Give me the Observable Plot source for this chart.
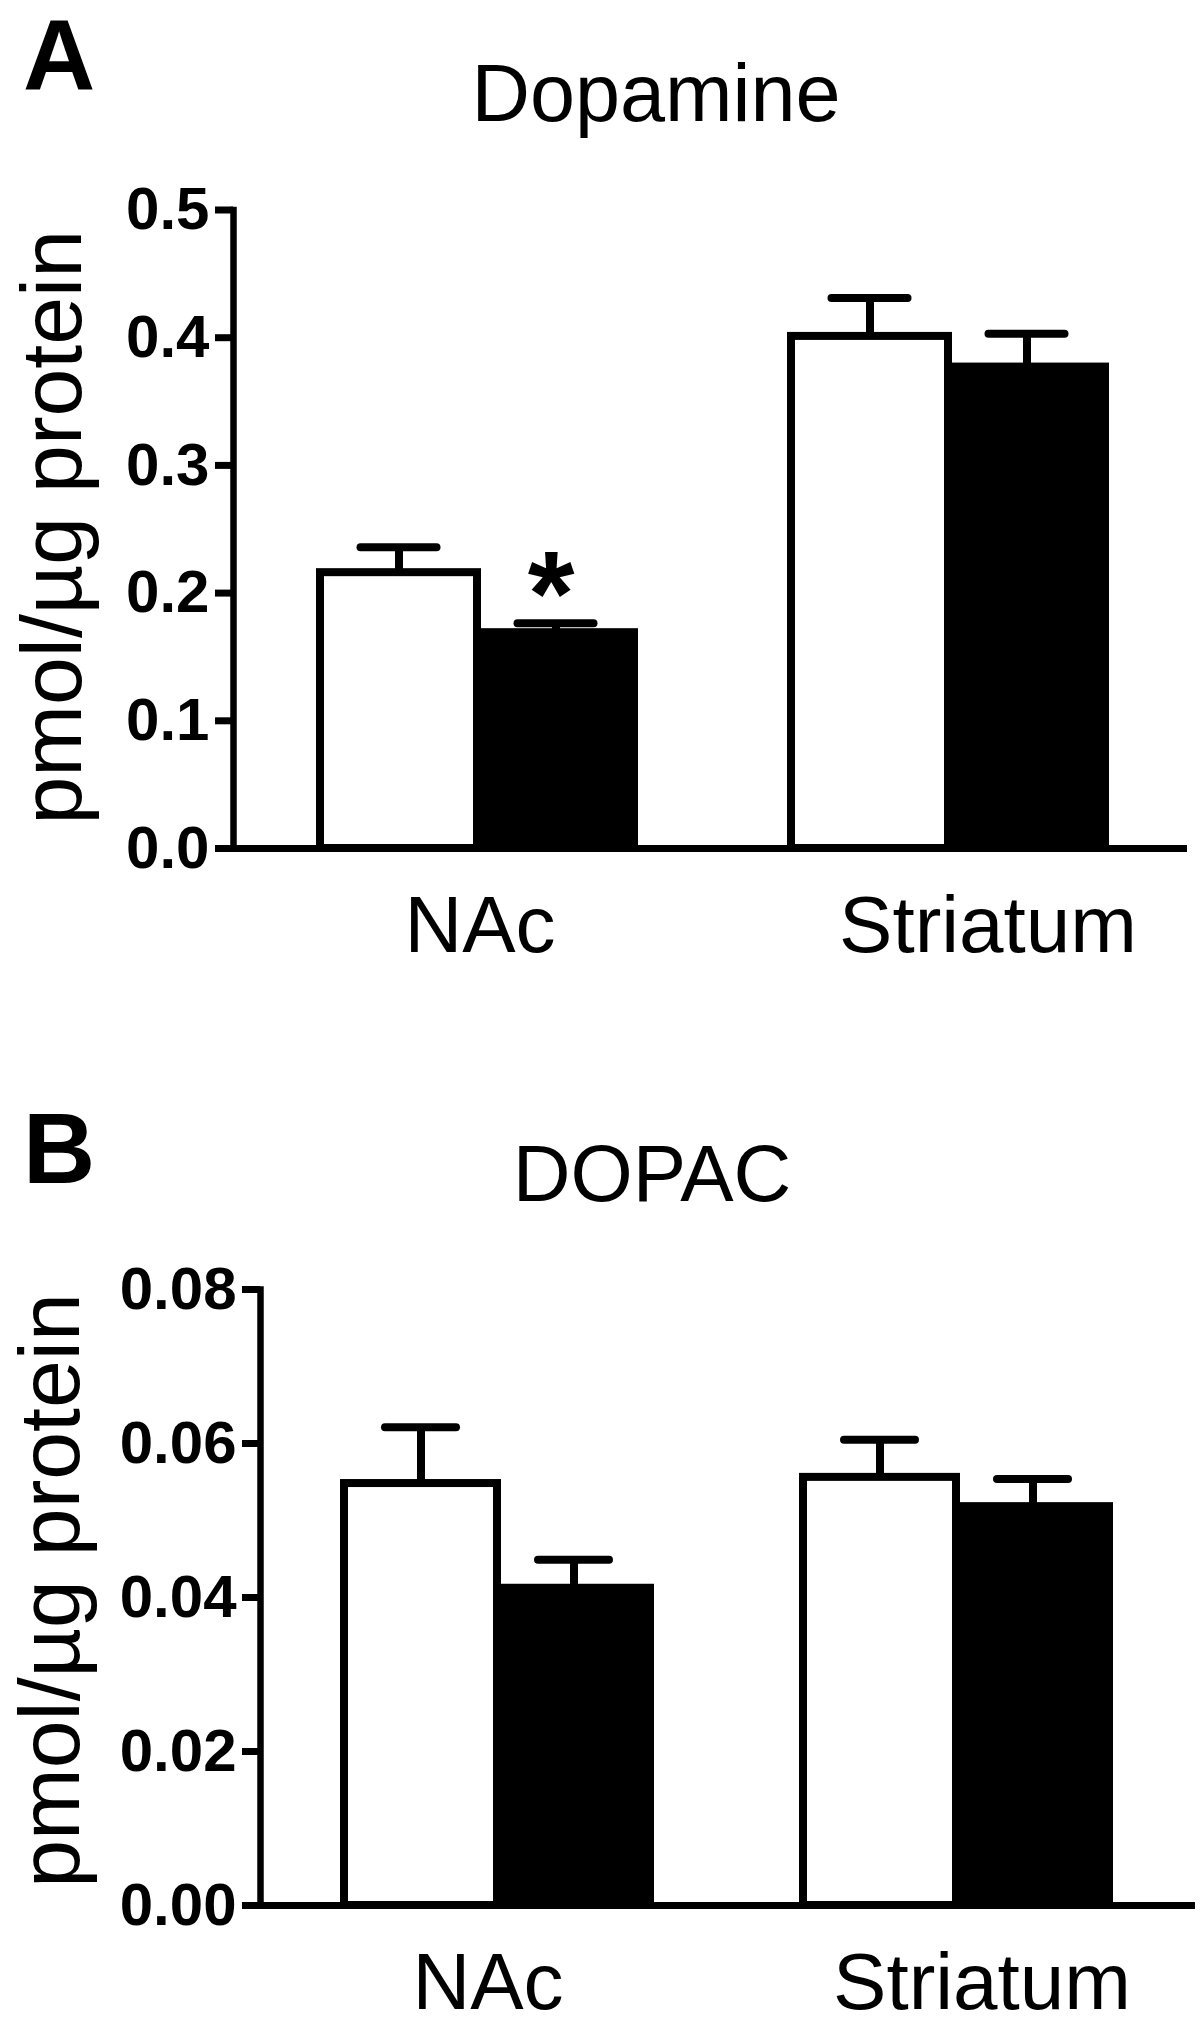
<!DOCTYPE html>
<html>
<head>
<meta charset="utf-8">
<script src="https://cdn.jsdelivr.net/npm/d3@7"></script>
<script src="https://cdn.jsdelivr.net/npm/@observablehq/plot@0.6"></script>
<style>
html, body { margin: 0; padding: 0; background: #fff; }
#page { position: relative; width: 1200px; height: 2018px; overflow: hidden;
  font-family: "Liberation Sans", Arial, Helvetica, sans-serif; color: #000; }
.panel { position: absolute; left: 0; }
.hdr { position: absolute; line-height: 1; white-space: nowrap; z-index: 2; }
.ctr { transform: translateX(-50%); }
</style>
</head>
<body>
<div id="page">
  <div class="panel" id="panelA" style="top:0px"></div>
  <div class="panel" id="panelB" style="top:1000px"></div>
  <div class="hdr" style="left:23px; top:5.4px; font-size:100px; font-weight:bold;">A</div>
  <div class="hdr ctr" style="left:656px; top:53.4px; font-size:81px;">Dopamine</div>
  <div class="hdr" style="left:23px; top:1098.4px; font-size:100px; font-weight:bold;">B</div>
  <div class="hdr ctr" style="left:652px; top:1134.3px; font-size:80px;">DOPAC</div>
</div>
<script>
// ---- data ----
const regions = ["NAc", "Striatum"];
const groups = ["Control", "Treated"];
// order: NAc-Control, NAc-Treated, Striatum-Control, Striatum-Treated
const dopamineMean = [0.216, 0.169, 0.401, 0.377];
const dopamineSem  = [0.020, 0.0074, 0.030, 0.026];
const dopacMean    = [0.0548, 0.0412, 0.0556, 0.0518];
const dopacSem     = [0.0073, 0.0037, 0.0049, 0.0036];
const dopamineStar = ["", "*", "", ""];
const dopacStar    = ["", "", "", ""];
const dopamineTicks = [0, 0.1, 0.2, 0.3, 0.4, 0.5];
const dopacTicks    = [0, 0.02, 0.04, 0.06, 0.08];
const yLabel = "pmol/\u00b5g protein";

const FONT = "Liberation Sans, Arial, Helvetica, sans-serif";
const GAP = "gap";
const xDomain = [`${regions[0]}|${groups[0]}`, `${regions[0]}|${groups[1]}`, GAP,
                 `${regions[1]}|${groups[0]}`, `${regions[1]}|${groups[1]}`];

function buildRows(mean, sem, star) {
  const rows = [];
  regions.forEach((r, i) => groups.forEach((g, j) => {
    const k = i * 2 + j;
    rows.push({region: r, group: g, key: `${r}|${g}`, mean: mean[k], top: mean[k] + sem[k], star: star[k]});
  }));
  return rows;
}

function panel(o) {
  const rows = buildRows(o.mean, o.sem, o.star);
  return Plot.plot({
    width: 1200,
    height: o.height,
    marginTop: o.mt, marginBottom: o.mb, marginLeft: o.ml, marginRight: o.mr,
    style: {fontFamily: FONT, background: "transparent", color: "black", overflow: "visible"},
    x: {domain: xDomain, paddingInner: 0, paddingOuter: o.padOuter, align: o.align, axis: null},
    y: {domain: [0, o.yMax], axis: null},
    color: {domain: groups, range: ["white", "black"]},
    marks: [
      Plot.barY(rows, {x: "key", y: "mean", fill: "group", stroke: "black", strokeWidth: 8}),
      Plot.ruleX(rows, {x: "key", y1: "mean", y2: "top", stroke: "black", strokeWidth: 8}),
      Plot.tickY(rows, {x: "key", y: "top", stroke: "black", strokeWidth: 8, strokeLinecap: "round",
                        insetLeft: o.capInset, insetRight: o.capInset}),
      Plot.frame({anchor: "left", stroke: "black", strokeWidth: 6.5}),
      Plot.ruleY([0], {stroke: "black", strokeWidth: 7}),
      Plot.axisY({ticks: o.ticks, tickFormat: o.fmt, tickSize: 18, tickPadding: 6, strokeWidth: 7,
                  fontSize: 60, fontWeight: "bold", fill: "black", label: null}),
      Plot.text(rows.filter(d => d.star), {x: "key", y: "top", text: "star", fontSize: 120, fontWeight: "bold",
                  lineAnchor: "bottom", dy: 12, dx: -5, fill: "black"}),
      Plot.text([regions[0]], {x: d => `${d}|${groups[1]}`, text: d => d, frameAnchor: "bottom",
                  lineAnchor: "bottom", dy: 103, dx: o.dxNAc, fontSize: 80, fill: "black"}),
      Plot.text([regions[1]], {x: d => `${d}|${groups[1]}`, text: d => d, frameAnchor: "bottom",
                  lineAnchor: "bottom", dy: 103, dx: o.dxStr, fontSize: 80, fill: "black"}),
      Plot.text([yLabel], {text: d => d, frameAnchor: "left", textAnchor: "middle", rotate: -90,
                  lineAnchor: "bottom", dx: o.labelDx, dy: o.labelDy, fontSize: 86, fill: "black"})
    ]
  });
}

document.getElementById("panelA").append(panel({
  mean: dopamineMean, sem: dopamineSem, star: dopamineStar, ticks: dopamineTicks,
  fmt: d3.format(".1f"), yMax: 0.5,
  height: 1000, mt: 209.5, mb: 152, ml: 233, mr: 13,
  padOuter: 0.519, align: 0.512, capInset: 40.5,
  dxNAc: -76, dxStr: -39, labelDx: -153, labelDy: -2
}));

document.getElementById("panelB").append(panel({
  mean: dopacMean, sem: dopacSem, star: dopacStar, ticks: dopacTicks,
  fmt: d3.format(".2f"), yMax: 0.08,
  height: 1018, mt: 289, mb: 113, ml: 260, mr: 5,
  padOuter: 0.54, align: 0.494, capInset: 41,
  dxNAc: -86, dxStr: -51, labelDx: -182, labelDy: -7
}));
</script>
</body>
</html>
